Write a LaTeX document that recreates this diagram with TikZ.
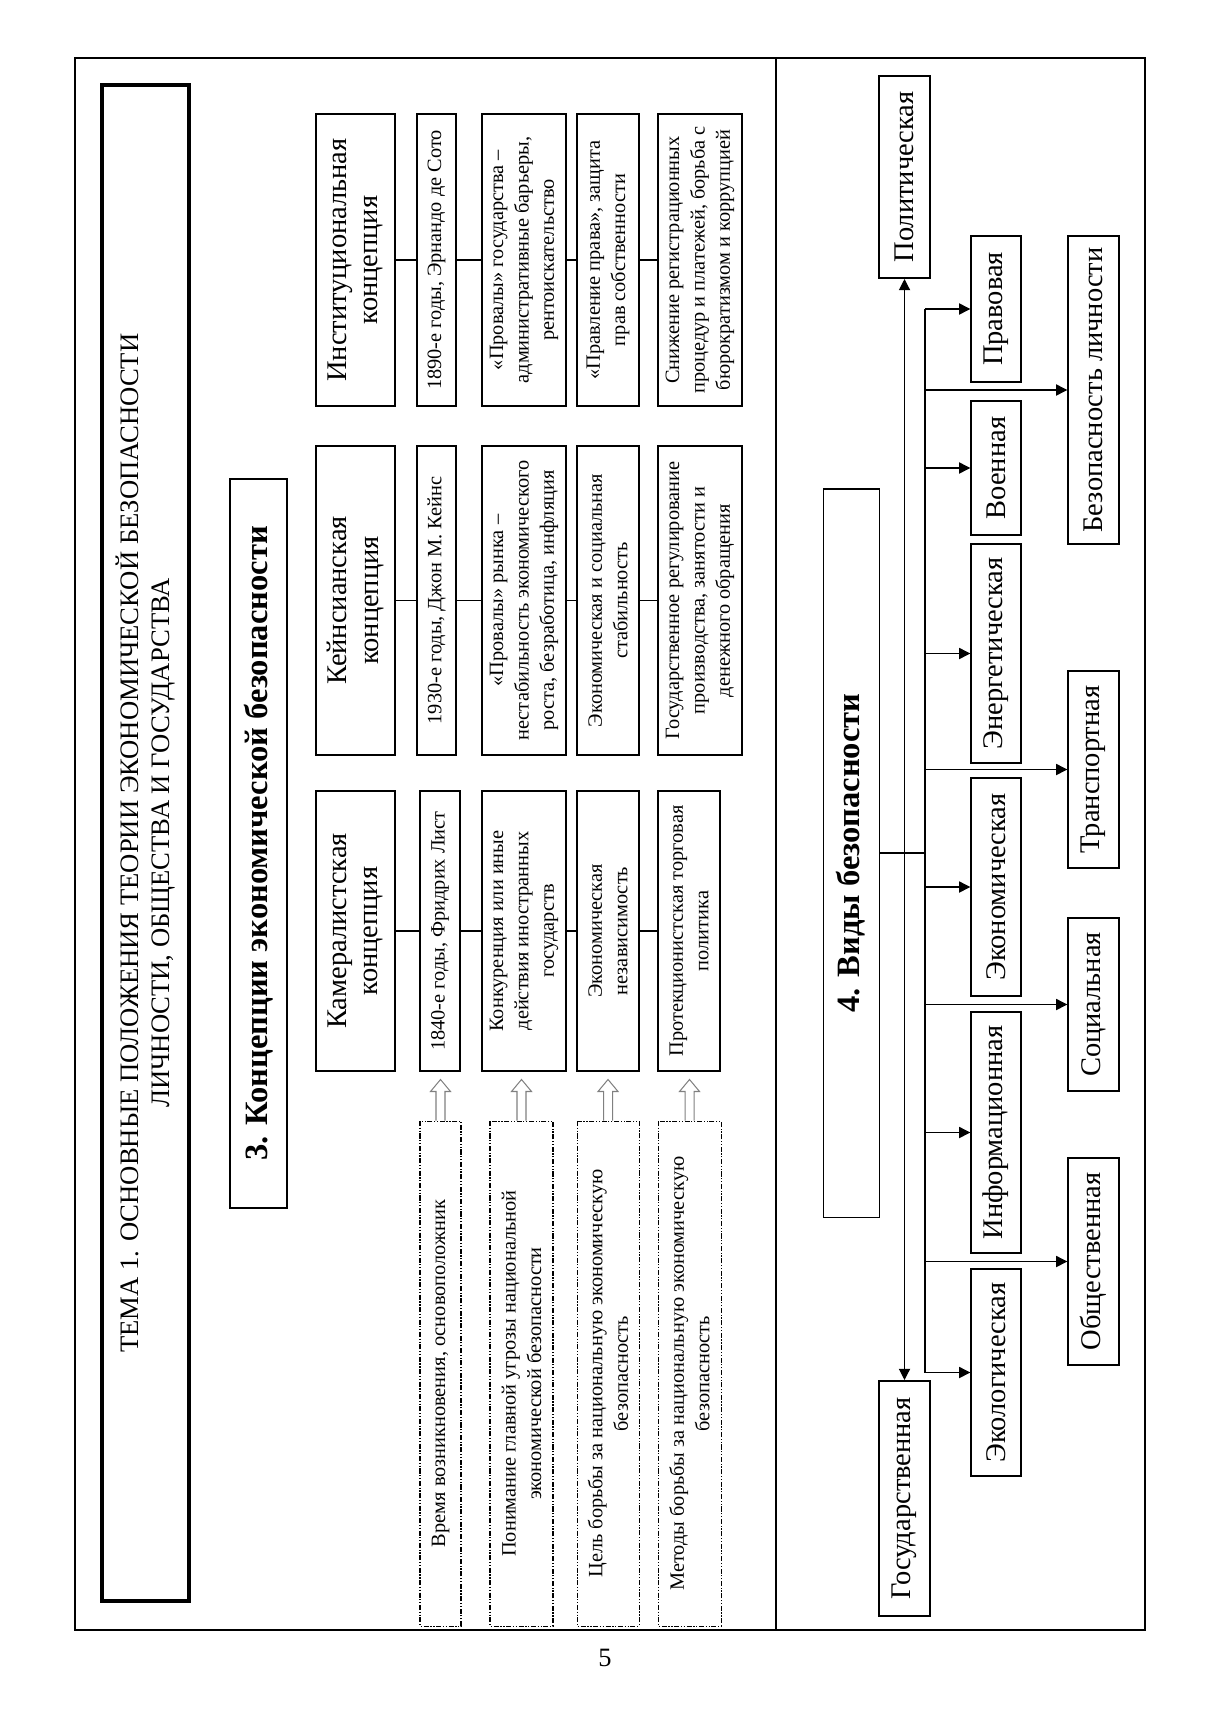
\documentclass[tikz,border=0pt]{standalone}
\usepackage{fontspec}
\setmainfont{Liberation Serif}
\usetikzlibrary{arrows.meta,calc}
\begin{document}
\begin{tikzpicture}[x=0.4916pt,y=-0.4916pt,
  rb/.style 2 args={rotate=90, inner sep=0pt, align=center, minimum width=#1*0.4916pt, minimum height=#2*0.4916pt},
  cbox/.style={draw, line width=0.8pt},
  sbox/.style={draw, line width=0.7pt, font=\fontsize{14}{16}\selectfont},
  dbox/.style={draw, line width=0.5pt, dash pattern=on 2.5pt off 0.8pt on 0.6pt off 0.8pt on 0.6pt off 0.8pt},
  hf/.style={font=\fontsize{14}{15.5}\selectfont},
  sf/.style={font=\fontsize{10}{12.5}\selectfont},
  bigf/.style={font=\fontsize{16}{18}\selectfont\bfseries},
  conn/.style={line width=0.6pt},
  arr/.style={line width=0.6pt, -{Triangle[length=5.5pt,width=5.5pt]}},
  darr/.style={line width=0.6pt, {Triangle[length=5.5pt,width=5.5pt]}-{Triangle[length=5.5pt,width=5.5pt]}},
  barrow/.style={draw=gray, line width=0.5pt, fill=white}]
\useasboundingbox (0,0) rectangle (1211,1713);
% frame
\draw[line width=0.6pt] (75,58) rectangle (1145,1630);
\draw[line width=1pt] (75,1630) -- (1145,1630) -- (1145,58);
\draw[line width=0.6pt] (776,58) -- (776,1630);
% title
\node[rb={1516}{87}, draw, line width=2.2pt, font=\fontsize{13.1}{15.5}\selectfont] (title) at (145.5,843)
  {ТЕМА 1. ОСНОВНЫЕ ПОЛОЖЕНИЯ ТЕОРИИ ЭКОНОМИЧЕСКОЙ БЕЗОПАСНОСТИ\\ЛИЧНОСТИ, ОБЩЕСТВА И ГОСУДАРСТВА};
% header 3
\node[rb={729}{57}, draw, line width=1.3pt, bigf] (h3) at (258.5,843.5) {3. Концепции экономической безопасности};
% institutional
\node[rb={292}{79}, cbox, hf] (i0) at (355.5,260) {Институциональная\\концепция};
\node[rb={292}{39}, cbox, sf] (i1) at (436.5,260) {1890-е годы, Эрнандо де Сото};
\node[rb={292}{84}, cbox, sf] (i2) at (524,260) {«Провалы» государства –\\административные барьеры,\\рентоискательство};
\node[rb={292}{62}, cbox, sf] (i3) at (608,260) {«Правление права», защита\\прав собственности};
\node[rb={292}{84}, cbox, sf] (i4) at (700,260) {Снижение регистрационных\\процедур и платежей, борьба с\\бюрократизмом и коррупцией};
% keynes
\node[rb={309}{79}, cbox, hf] (k0) at (355.5,600.5) {Кейнсианская\\концепция};
\node[rb={309}{39}, cbox, sf] (k1) at (436.5,600.5) {1930-е годы, Джон М. Кейнс};
\node[rb={309}{84}, cbox, sf] (k2) at (524,600.5) {«Провалы» рынка –\\нестабильность экономического\\роста, безработица, инфляция};
\node[rb={309}{62}, cbox, sf] (k3) at (608,600.5) {Экономическая и социальная\\стабильность};
\node[rb={309}{84}, cbox, sf] (k4) at (700,600.5) {Государственное регулирование\\производства, занятости и\\денежного обращения};
% cameral
\node[rb={280}{79}, cbox, hf] (m0) at (355.5,931) {Камералистская\\концепция};
\node[rb={280}{40}, cbox, sf] (m1) at (440,931) {1840-е годы, Фридрих Лист};
\node[rb={280}{84}, cbox, sf] (m2) at (524,931) {Конкуренция или иные\\действия иностранных\\государств};
\node[rb={280}{62}, cbox, sf] (m3) at (608,931) {Экономическая\\независимость};
\node[rb={280}{62}, cbox, sf] (m4) at (689,931) {Протекционистская торговая\\политика};
\foreach \c in {i,k,m}{
  \draw[conn] (\c0.south) -- (\c1.north);
  \draw[conn] (\c1.south) -- (\c2.north);
  \draw[conn] (\c2.south) -- (\c3.north);
  \draw[conn] (\c3.south) -- (\c4.north);
}
% dashed boxes
\node[rb={505}{41}, dbox, sf] (d1) at (440.5,1373.5) {Время возникновения, основоположник};
\node[rb={505}{63}, dbox, sf] (d2) at (521.5,1373.5) {Понимание главной угрозы национальной\\экономической безопасности};
\node[rb={505}{62}, dbox, sf] (d3) at (608,1373.5) {Цель борьбы за национальную экономическую\\безопасность};
\node[rb={505}{63}, dbox, sf] (d4) at (689.5,1373.5) {Методы борьбы за национальную экономическую\\безопасность};
\foreach \d in {d1,d2,d3,d4}{
  \draw[barrow] ($(\d.east)+(-4.5,0)$) -- ++(0,-29) -- ++(-5.5,0) -- ++(10,-12) -- ++(10,12) -- ++(-5.5,0) -- ++(0,29);
}
% section 4
\node[rb={728}{56}, draw, line width=0.5pt, bigf] (vid) at (851,853) {4. Виды безопасности};
\node[rb={202}{51}, sbox, line width=1pt] (pol) at (904.5,177) {Политическая};
\node[rb={235}{51}, sbox, line width=1pt] (gos) at (904.5,1498.5) {Государственная};
\node[rb={146}{50}, sbox] (prav) at (996,309) {Правовая};
\node[rb={134}{50}, sbox] (voen) at (996,468) {Военная};
\node[rb={219}{50}, sbox] (energ) at (996,653.5) {Энергетическая};
\node[rb={218}{50}, sbox] (econ) at (996,887) {Экономическая};
\node[rb={241}{50}, sbox] (inf) at (996,1132.5) {Информационная};
\node[rb={207}{50}, sbox] (ekol) at (996,1372.5) {Экологическая};
\node[rb={308}{51}, sbox] (lich) at (1093.5,390) {Безопасность личности};
\node[rb={197}{51}, sbox] (trans) at (1093.5,769.5) {Транспортная};
\node[rb={173}{51}, sbox] (soc) at (1093.5,1004.5) {Социальная};
\node[rb={207}{51}, sbox] (obsh) at (1093.5,1261.5) {Общественная};
\draw[darr] (gos.east) -- (pol.west);
\coordinate (bx) at (925,853);
\draw[conn] (vid.south) -- (vid.south -| bx);
\draw[conn] (prav.north -| bx) -- (ekol.north -| bx);
\foreach \n in {prav,voen,energ,econ,inf,ekol,lich,trans,soc,obsh}
  \draw[arr] (\n.north -| bx) -- (\n.north);
% page number
\node[font=\fontsize{13}{15}\selectfont] (pn) at (605,1658) {5};
\end{tikzpicture}
\end{document}
